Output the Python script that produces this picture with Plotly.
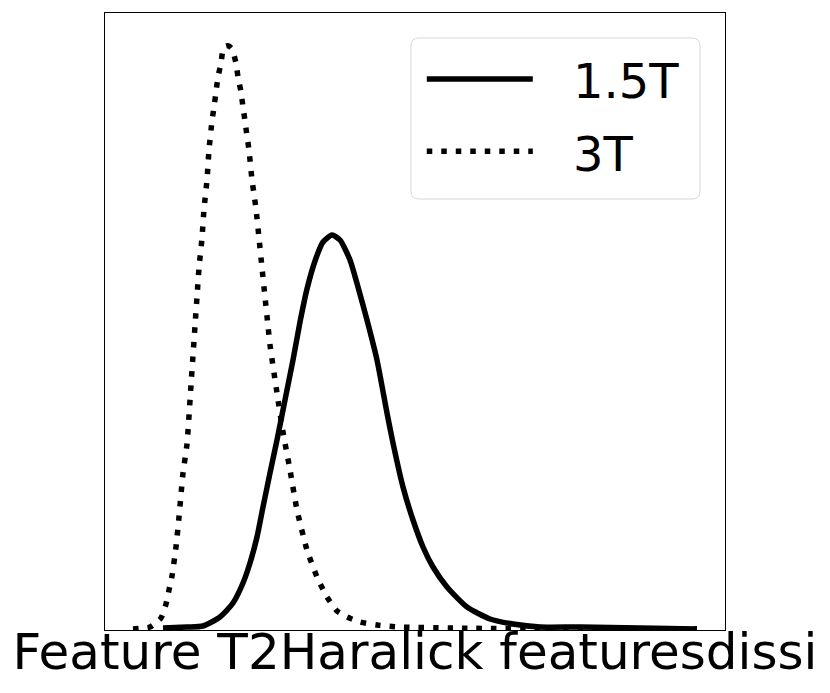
import plotly.graph_objects as go

# Data (arbitrary feature units / density units)
x_3t = [28, 45, 56, 61, 64, 67, 71, 74, 78, 82, 86, 90, 92, 94, 97, 99, 102, 104, 107, 109,
        111, 113, 116, 118, 121, 124, 127, 131, 133, 136, 138, 140, 142, 144, 147, 149, 151,
        154, 157, 160, 163, 165, 172, 178, 185, 192, 202, 212, 222, 232, 242, 255, 272, 295,
        345, 445, 592]
y_3t = [1, 3, 12, 26, 40, 54, 83, 113, 157, 186, 245, 304, 333, 362, 392, 421, 450, 480, 509,
        523, 538, 553, 567, 580, 584, 584, 581, 567, 553, 538, 523, 509, 494, 480, 450, 436,
        421, 392, 362, 333, 304, 285, 237, 198, 160, 120, 80, 53, 33, 19, 13, 8, 5, 3, 2, 1, 1]

x_15t = [58, 82, 98, 115, 128, 138, 145, 152, 158, 165, 172, 180, 188, 195, 202, 210, 218, 227,
         235, 245, 253, 262, 272, 282, 288, 298, 308, 318, 328, 342, 362, 385, 408, 435, 475,
         535, 592]
y_15t = [2, 3, 4, 13, 27, 47, 67, 93, 123, 157, 190, 230, 270, 308, 341, 369, 388, 395, 390,
         370, 343, 310, 270, 217, 187, 143, 110, 83, 63, 43, 23, 11, 6, 3, 3, 2, 1]

names = ["1.5T", "3T"]
x_title = "Feature T2Haralick featuresdissi"

FONT = "DejaVu Sans"
LW = 5.5
DOT = "5.5px,9px"

fig = go.Figure()
fig.add_trace(go.Scatter(x=x_15t, y=y_15t, mode="lines", name=names[0], showlegend=False,
                         line=dict(color="black", width=LW, shape="spline", smoothing=0.6)))
fig.add_trace(go.Scatter(x=x_3t, y=y_3t, mode="lines", name=names[1], showlegend=False,
                         line=dict(color="black", width=LW, dash=DOT,
                                   shape="spline", smoothing=0.5)))

# legend frame with rounded corners (paper coords)
x0, x1, y0, y1 = 0.4935, 0.9597, 0.6985, 0.9595
rx, ry = 8 / 620, 8 / 617
path = (f"M{x0+rx},{y1} L{x1-rx},{y1} Q{x1},{y1} {x1},{y1-ry} L{x1},{y0+ry} "
        f"Q{x1},{y0} {x1-rx},{y0} L{x0+rx},{y0} Q{x0},{y0} {x0},{y0+ry} "
        f"L{x0},{y1-ry} Q{x0},{y1} {x0+rx},{y1} Z")
fig.add_shape(type="path", path=path, xref="paper", yref="paper",
              line=dict(color="#d6d6d6", width=1), fillcolor="rgba(255,255,255,0.8)", layer="above")

# legend entries
rows = [(0.893, "solid"), (0.776, DOT)]
for (yy, dash), name in zip(rows, names):
    fig.add_shape(type="line", xref="paper", yref="paper", x0=0.519, x1=0.690, y0=yy, y1=yy,
                  line=dict(color="black", width=LW, dash=dash), layer="above")
    fig.add_annotation(xref="paper", yref="paper", x=0.752, y=yy - 0.004, xanchor="left",
                       yanchor="middle", text=name, showarrow=False,
                       font=dict(family=FONT, size=48, color="black"))

fig.update_layout(
    width=822, height=685,
    margin=dict(l=97, r=105, t=5, b=63),
    paper_bgcolor="white", plot_bgcolor="white",
    font=dict(family=FONT, color="black", size=48),
    showlegend=False,
    xaxis=dict(range=[0, 620], showticklabels=False, ticks="", showgrid=False, zeroline=False,
               showline=True, linecolor="black", linewidth=1, mirror=True,
               title=dict(text=x_title, font=dict(family=FONT, size=50, color="black"), standoff=3)),
    yaxis=dict(range=[0, 617], showticklabels=False, ticks="", showgrid=False, zeroline=False,
               showline=True, linecolor="black", linewidth=1, mirror=True),
)

fig.write_html("out.html")
